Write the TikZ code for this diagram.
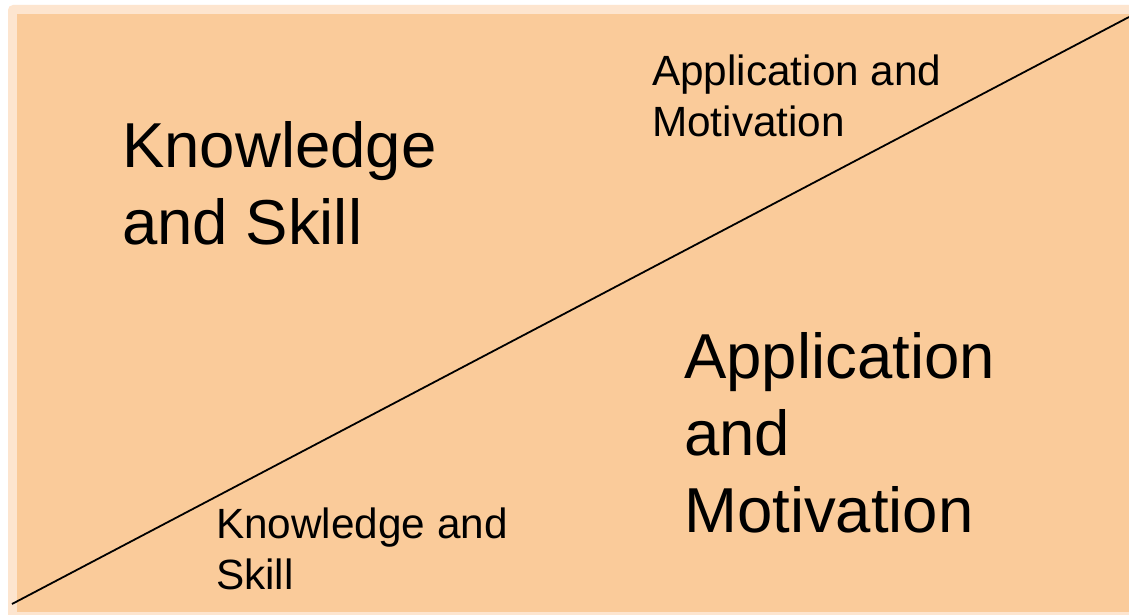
\documentclass[tikz,border=0pt]{standalone}
\usepackage{fontspec}
\setmainfont{Liberation Sans}
\definecolor{fillc}{HTML}{FACB9A}
\definecolor{edgec}{HTML}{FDE5CF}
\begin{document}
\begin{tikzpicture}[x=1pt,y=-1pt,
  bigtxt/.style={anchor=north west,inner sep=0pt,align=left,font=\fontsize{63.5}{77}\selectfont},
  smalltxt/.style={anchor=north west,inner sep=0pt,align=left,font=\fontsize{42.3}{50.5}\selectfont}]
\useasboundingbox (0,0) rectangle (1129,615);
\fill[white] (0,0) rectangle (1129,615);
\fill[edgec,rounded corners=5pt] (8,5) rectangle (1150,640);
\fill[fillc] (17,14) rectangle (1140,612);
\coordinate (lo) at (12,604);
\coordinate (hi) at (1129,17);
\draw[line width=1.8pt] (lo) -- (hi);
\node[bigtxt] (ks) at (122,121) {Knowledge\\and Skill};
\node[smalltxt] (am) at (652,55) {Application and\\Motivation};
\node[bigtxt] (am2) at (684,332) {Application\\and\\Motivation};
\node[smalltxt] (ks2) at (216,508) {Knowledge and\\Skill};
\end{tikzpicture}
\end{document}
